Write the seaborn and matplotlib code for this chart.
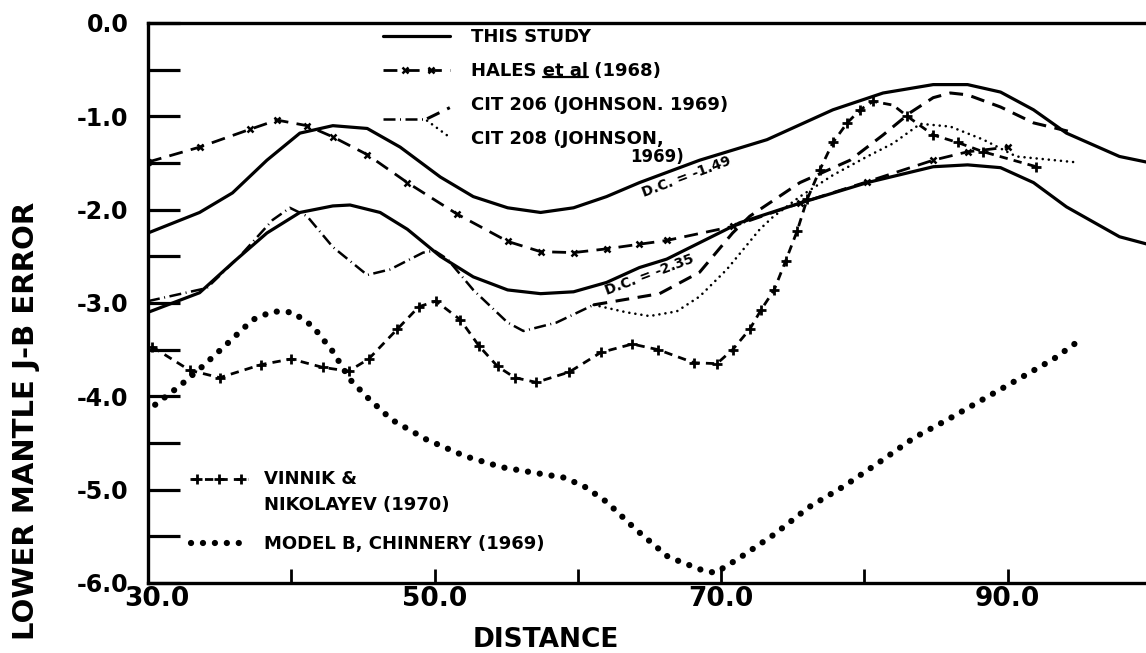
import numpy as np
import pandas as pd
import matplotlib
matplotlib.use("Agg")
import matplotlib.pyplot as plt
import seaborn as sns
from matplotlib.lines import Line2D
from matplotlib.legend_handler import HandlerBase
from matplotlib.ticker import MultipleLocator, FormatStrFormatter
from matplotlib.transforms import ScaledTranslation, IdentityTransform
from matplotlib.text import Text

# ---------------- data ----------------
study_upper_x = [30.0, 33.6, 35.9, 38.3, 40.6, 42.9, 45.3, 47.6, 50.4, 52.7, 55.1, 57.4, 59.7,
                 62.0, 64.3, 68.5, 73.2, 77.8, 81.3, 84.8, 87.2, 89.5, 91.8, 94.1, 97.8, 100.0]
study_upper_y = [-2.25, -2.03, -1.82, -1.47, -1.18, -1.10, -1.13, -1.33, -1.65, -1.86, -1.98, -2.03, -1.98,
                 -1.86, -1.71, -1.47, -1.25, -0.93, -0.75, -0.66, -0.66, -0.74, -0.93, -1.18, -1.43, -1.50]

study_lower_x = [30.0, 33.6, 35.9, 38.3, 40.6, 42.9, 44.1, 46.2, 48.1, 50.4, 52.7, 55.1, 57.4, 59.7,
                 62.0, 64.3, 66.2, 71.3, 75.5, 80.2, 84.8, 87.2, 89.5, 91.8, 94.1, 97.8, 100.0]
study_lower_y = [-3.10, -2.89, -2.57, -2.25, -2.03, -1.96, -1.95, -2.03, -2.21, -2.50, -2.72, -2.86, -2.90, -2.88,
                 -2.78, -2.62, -2.53, -2.14, -1.93, -1.71, -1.54, -1.52, -1.55, -1.71, -1.97, -2.29, -2.38]

hales_x = [30.0, 33.6, 37.1, 39.0, 41.1, 42.9, 45.3, 48.1, 51.6, 55.1, 57.4, 59.7, 62.0, 64.3,
           66.2, 70.8, 75.5, 80.2, 84.8, 87.2, 90.0]
hales_y = [-1.49, -1.33, -1.14, -1.04, -1.10, -1.22, -1.41, -1.71, -2.05, -2.34, -2.45, -2.46, -2.42, -2.37,
           -2.33, -2.18, -1.93, -1.70, -1.47, -1.38, -1.33]

cit206_dd_x = [30.0, 34.1, 36.4, 38.7, 39.9, 41.1, 42.9, 45.3, 46.9, 49.2, 50.0, 50.9, 52.7, 55.1,
               56.2, 58.5, 61.1]
cit206_dd_y = [-2.98, -2.84, -2.50, -2.11, -1.98, -2.07, -2.40, -2.70, -2.64, -2.46, -2.44, -2.53, -2.86, -3.21,
               -3.30, -3.21, -3.02]
cit206_da_x = [61.1, 63.4, 65.7, 68.5, 70.8, 72.0, 75.5, 79.0, 81.3, 83.2, 84.8, 86.0, 87.2, 89.5, 91.8, 94.5]
cit206_da_y = [-3.02, -2.96, -2.90, -2.67, -2.25, -2.07, -1.71, -1.47, -1.20, -0.96, -0.80, -0.75, -0.77,
               -0.90, -1.07, -1.17]

cit208_x = [61.1, 63.4, 65.0, 66.9, 68.5, 70.4, 72.7, 73.6, 75.5, 77.8, 80.2, 82.0, 83.9, 86.0, 88.3, 90.6, 94.6]
cit208_y = [-3.02, -3.10, -3.14, -3.09, -2.93, -2.64, -2.21, -2.08, -1.86, -1.63, -1.43, -1.29, -1.08,
            -1.11, -1.25, -1.43, -1.49]

vinnik_x = [30.3, 32.9, 35.0, 37.9, 40.0, 42.2, 44.0, 45.4, 47.4, 48.9, 50.1, 51.8, 53.1, 54.4, 55.6,
            57.1, 59.4, 61.6, 63.8, 65.6, 68.1, 69.7, 70.8, 72.0, 72.8, 73.7, 74.5, 75.3, 76.0, 76.9,
            77.8, 78.8, 79.7, 80.6, 82.0, 83.0, 84.8, 86.5, 88.3, 92.0]
vinnik_y = [-3.47, -3.72, -3.80, -3.66, -3.60, -3.69, -3.73, -3.60, -3.28, -3.04, -2.98, -3.18, -3.46, -3.68,
            -3.80, -3.85, -3.74, -3.53, -3.44, -3.50, -3.64, -3.65, -3.50, -3.28, -3.07, -2.86, -2.55, -2.23,
            -1.89, -1.57, -1.28, -1.07, -0.93, -0.84, -0.88, -1.00, -1.20, -1.28, -1.38, -1.54]

modelb_x = [30.5, 32.2, 33.8, 35.5, 37.3, 38.7, 40.1, 41.5, 42.9, 44.1, 45.3, 47.0, 49.4, 52.1, 54.7,
            57.4, 59.0, 60.4, 62.0, 64.0, 66.3, 68.8, 69.6, 71.2, 73.7, 76.1, 78.6, 81.0, 83.5, 85.8,
            88.3, 90.7, 93.2, 95.1]
modelb_y = [-4.09, -3.89, -3.68, -3.44, -3.18, -3.09, -3.10, -3.25, -3.52, -3.82, -4.01, -4.25, -4.46, -4.64,
            -4.76, -4.83, -4.87, -4.96, -5.13, -5.42, -5.72, -5.87, -5.89, -5.74, -5.48, -5.19, -4.96, -4.71,
            -4.44, -4.25, -4.03, -3.82, -3.60, -3.39]

xtick_vals = [30, 40, 50, 60, 70, 80, 90]
xtick_labels = ["30.0", "", "50.0", "", "70.0", "", "90.0"]

top_labels = ["THIS STUDY", "HALES et al (1968)", "CIT 206 (JOHNSON. 1969)", "CIT 208 (JOHNSON,"]
bottom_labels = ["VINNIK &\nNIKOLAYEV (1970)", "MODEL B, CHINNERY (1969)"]

# ---------------- styles ----------------
solid_kw = dict(color="k", lw=2.3)
hales_kw = dict(color="k", lw=2.0, linestyle=(0, (5, 3)))
hales_mk = dict(marker="x", markersize=5, markeredgewidth=1.8, markeredgecolor="k")
dashdot_kw = dict(color="k", lw=1.8, linestyle=(0, (4.8, 1.8, 0.4, 1.8)))
dashed_kw = dict(color="k", lw=2.2, linestyle=(0, (4.5, 2.8)))
dotted_kw = dict(color="k", lw=1.9, linestyle=(0, (0.01, 2.3)), dash_capstyle="round")
vinnik_kw = dict(color="k", lw=2.0, linestyle=(0, (3, 2.2)))
vinnik_mk = dict(marker="+", markersize=6.5, markeredgewidth=2.0, markeredgecolor="k")
modelb_kw = dict(color="k", lw=4.5, linestyle=(0, (0.01, 1.9)), dash_capstyle="round")

sns.set_style("white")
plt.rcParams["font.family"] = ["DejaVu Sans"]
plt.rcParams["font.weight"] = "bold"
plt.rcParams["axes.unicode_minus"] = False
plt.rcParams["text.color"] = "black"
plt.rcParams["axes.labelcolor"] = "black"
plt.rcParams["xtick.color"] = "black"
plt.rcParams["ytick.color"] = "black"
plt.rcParams["axes.edgecolor"] = "black"

W, H = 1146, 653
fig = plt.figure(figsize=(W / 100, H / 100), dpi=100)
ax = fig.add_axes([148 / W, 1 - 583 / H, (1151 - 148) / W, 560 / H])

common = dict(ax=ax, sort=False, estimator=None, legend=False)
sns.lineplot(x=modelb_x, y=modelb_y, **common, **modelb_kw)
sns.lineplot(x=cit208_x, y=cit208_y, **common, **dotted_kw)
sns.lineplot(x=cit206_dd_x, y=cit206_dd_y, **common, **dashdot_kw)
sns.lineplot(x=cit206_da_x, y=cit206_da_y, **common, **dashed_kw)
sns.lineplot(x=vinnik_x, y=vinnik_y, markevery=0.021, **common, **vinnik_kw, **vinnik_mk)
sns.lineplot(x=hales_x, y=hales_y, markevery=0.026, **common, **hales_kw, **hales_mk)
sns.lineplot(x=study_upper_x, y=study_upper_y, **common, **solid_kw)
sns.lineplot(x=study_lower_x, y=study_lower_y, **common, **solid_kw)

ax.set_xlim(30, 100)
ax.set_ylim(-6, 0)

# spines
for side in ["left", "bottom", "top"]:
    ax.spines[side].set_color("k")
    ax.spines[side].set_linewidth(2.4)
ax.spines["right"].set_visible(False)

# ticks
ax.yaxis.set_major_locator(MultipleLocator(1))
ax.yaxis.set_minor_locator(MultipleLocator(0.5))
ax.yaxis.set_major_formatter(FormatStrFormatter("%.1f"))
ax.tick_params(axis="y", which="both", direction="in", length=23, width=2.3, pad=14,
               labelsize=17, left=True, color="k", labelcolor="k")
ax.set_xticks(xtick_vals)
ax.set_xticklabels(xtick_labels)
ax.tick_params(axis="x", which="major", direction="in", length=10, width=2.0, pad=2,
               labelsize=19, bottom=True, color="k", labelcolor="k")
for lab in ax.get_xticklabels() + ax.get_yticklabels():
    lab.set_fontweight("bold")
first = ax.get_xticklabels()[0]
first.set_transform(first.get_transform() + ScaledTranslation(0.09, 0, fig.dpi_scale_trans))

ax.set_xlabel("DISTANCE", fontsize=19, fontweight="bold", color="k")
ax.xaxis.set_label_coords(0.397, -0.078)
ax.set_ylabel("LOWER MANTLE J-B ERROR", fontsize=21, fontweight="bold", color="k")
ax.yaxis.set_label_coords(-0.108, 0.29)

# D.C. annotations
ax.text(67.6, -1.65, "D.C. = -1.49", rotation=20.5, rotation_mode="anchor", ha="center",
        va="center", fontsize=10, fontweight="bold", color="k")
ax.text(65.0, -2.70, "D.C. = -2.35", rotation=20.5, rotation_mode="anchor", ha="center",
        va="center", fontsize=10, fontweight="bold", color="k")


# ---------------- legends ----------------
class SegHandler(HandlerBase):
    def __init__(self, segs, marks=None):
        super().__init__()
        self.segs = segs
        self.marks = marks or []

    def create_artists(self, legend, orig_handle, xdescent, ydescent, width, height, fontsize, trans):
        yc = height / 2 - ydescent
        x0 = -xdescent
        arts = []
        for fx0, dy0, fx1, dy1, kw in self.segs:
            ln = Line2D([x0 + fx0 * width, x0 + fx1 * width], [yc + dy0, yc + dy1], **kw)
            ln.set_transform(trans)
            arts.append(ln)
        for fxs, dy, kw in self.marks:
            ln = Line2D([x0 + f * width for f in fxs], [yc + dy] * len(fxs), linestyle="none",
                        color="k", **kw)
            ln.set_transform(trans)
            arts.append(ln)
        return arts


h_study, h_hales, h_206, h_208, h_vin, h_mb = [Line2D([], []) for _ in range(6)]
hmap = {
    h_study: SegHandler([(0, 0, 1, 0, solid_kw)]),
    h_hales: SegHandler([(0, 0, 1, 0, hales_kw)], [([0.33, 0.72], 0, hales_mk)]),
    h_206: SegHandler([(0, -11, 0.66, -11, dashdot_kw), (0.66, -11, 1.0, -3, dashed_kw)]),
    h_208: SegHandler([(0.66, 12, 1.0, 0, dotted_kw)]),
    h_vin: SegHandler([(0, 9.5, 1, 9.5, vinnik_kw)], [([0.12, 0.5, 0.88], 9.5, vinnik_mk)]),
    h_mb: SegHandler([(0.02, 0, 1, 0, modelb_kw)]),
}
prop = {"size": 13, "weight": "bold"}
leg1 = ax.legend([h_study, h_hales, h_206, h_208], top_labels, handler_map=hmap,
                 loc="upper left", bbox_to_anchor=(383 / W, 1 - 28 / H), bbox_transform=fig.transFigure,
                 frameon=False, prop=prop, handlelength=3.7, handletextpad=1.2, labelspacing=0.88,
                 borderpad=0, borderaxespad=0)
for t in leg1.get_texts():
    t.set_color("k")
ax.add_artist(leg1)
leg2 = ax.legend([h_vin, h_mb], bottom_labels, handler_map=hmap,
                 loc="upper left", bbox_to_anchor=(190 / W, 1 - 470 / H), bbox_transform=fig.transFigure,
                 frameon=False, prop=prop, handlelength=3.2, handletextpad=0.9, labelspacing=1.2,
                 borderpad=0, borderaxespad=0)
for t in leg2.get_texts():
    t.set_linespacing(1.55)
    t.set_color("k")

fig.text(657 / W, 1 - 157 / H, "1969)", ha="center", va="center", fontsize=12, fontweight="bold",
         color="k")

# underline "et al"
fig.canvas.draw()
renderer = fig.canvas.get_renderer()
t_hales = leg1.get_texts()[1]
bb = t_hales.get_window_extent(renderer)


def text_width(s):
    tmp = Text(0, 0, s, fontproperties=t_hales.get_fontproperties())
    tmp.set_figure(fig)
    return tmp.get_window_extent(renderer).width


ux1 = bb.x0 + text_width("HALES et al")
ux0 = ux1 - text_width("et al")
uy = bb.y0 + 2.5
fig.add_artist(Line2D([ux0, ux1], [uy, uy], transform=IdentityTransform(), color="k", lw=1.6))

fig.savefig("out.png", dpi=100)
